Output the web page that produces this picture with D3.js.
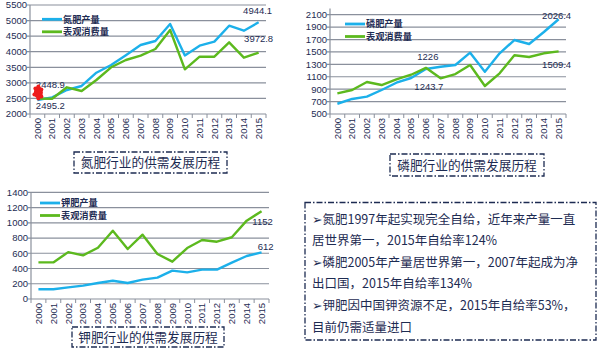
<!DOCTYPE html>
<html lang="zh">
<head>
<meta charset="UTF-8">
<title>化肥行业供需发展历程</title>
<script src="https://d3js.org/d3.v7.min.js"></script>
<style>
  body { margin: 0; background: #fff; }
  .tick-label { font-family: "Liberation Sans", Arial, sans-serif; font-size: 9.5px; fill: #1d2b52; }
  .data-label { font-family: "Liberation Sans", Arial, sans-serif; font-size: 9.5px; fill: #1d2b52; }
  .legend-text { font-family: "Noto Sans CJK SC", sans-serif; font-size: 9.2px; font-weight: bold; fill: #1d2b52; }
  .title-text { font-family: "Noto Sans CJK SC", sans-serif; font-size: 12.7px; fill: #1d2b52; }
  .note-text { font-family: "Noto Sans CJK SC", "DejaVu Sans", sans-serif; font-size: 12.5px; fill: #1d2b52; }
</style>
</head>
<body>
<div class="chart"></div>
<script>
// data
var years = ["2000","2001","2002","2003","2004","2005","2006","2007",
             "2008","2009","2010","2011","2012","2013","2014","2015"];
var consumeName = "表观消费量";

// nitrogen (氮肥)
var nProd    = [2448.9, 2536, 2771, 2900, 3326, 3573, 3890, 4216, 4344, 4890, 3880, 4193, 4322, 4835, 4675, 4944.1];
var nConsume = [2495.2, 2490, 2857, 2739, 3092, 3500, 3734, 3873, 4087, 4697, 3435, 3840, 3840, 4302, 3808, 3972.8];
var nTicks   = [2000, 2500, 3000, 3500, 4000, 4500, 5000, 5500];

// phosphate (磷肥)
var pProd    = [665, 742, 779, 887, 1004, 1080, 1226, 1262, 1289, 1488, 1181, 1478, 1692, 1628, 1821, 2026.4];
var pConsume = [833, 887, 1016, 967, 1059, 1133, 1243.7, 1075, 1144, 1289, 951, 1156, 1446, 1418, 1478, 1509.4];
var pTicks   = [500, 700, 900, 1100, 1300, 1500, 1700, 1900, 2100];

// potash (钾肥)
var kProd    = [127, 128, 153, 175, 210, 240, 210, 254, 280, 372, 350, 385, 385, 477, 564, 612];
var kConsume = [480, 480, 615, 573, 673, 896, 656, 844, 590, 490, 669, 774, 752, 810, 1028, 1152];
var kTicks   = [0, 200, 400, 600, 800, 1000, 1200, 1400];

var notes = [
  "➢氮肥1997年起实现完全自给，近年来产量一直",
  "居世界第一，2015年自给率124%",
  "➢磷肥2005年产量居世界第一，2007年起成为净",
  "出口国，2015年自给率134%",
  "➢钾肥因中国钾资源不足，2015年自给率53%，",
  "目前仍需适量进口"
];

var blue = "#1cb0ea", green = "#5cb91e", navy = "#1d2b52", grid = "#8a909c";

var svg = d3.select(".chart").append("svg")
    .attr("width", 600)
    .attr("height", 354);

function drawChart(cfg) {
  var g = svg.append("g");

  var x = d3.scaleBand()
      .domain(years)
      .range(cfg.xRange);
  var y = d3.scaleLinear()
      .domain(cfg.yDomain)
      .range(cfg.yRange);

  var x0 = cfg.xRange[0], x1 = cfg.xRange[1];
  var yBase = y(cfg.yDomain[0]);

  // gridlines + y labels
  g.selectAll(".gridline")
      .data(cfg.ticks.slice(1))
    .enter().append("line")
      .attr("x1", x0 - 3).attr("x2", x1)
      .attr("y1", d => y(d)).attr("y2", d => y(d))
      .style("stroke", grid).style("stroke-width", 1.2);

  g.selectAll(".ylab")
      .data(cfg.ticks)
    .enter().append("text")
      .attr("class", "tick-label")
      .attr("x", x0 - 3)
      .attr("y", d => y(d))
      .attr("dy", "0.35em")
      .style("text-anchor", "end")
      .text(d => d);

  // y axis line
  g.append("line")
      .attr("x1", x0).attr("x2", x0)
      .attr("y1", yBase).attr("y2", y(cfg.yDomain[1]))
      .style("stroke", grid).style("stroke-width", 1.2);

  // x axis
  g.append("line")
      .attr("x1", x0 - 3).attr("x2", x1)
      .attr("y1", yBase).attr("y2", yBase)
      .style("stroke", grid).style("stroke-width", 1.2);

  g.selectAll(".xtick")
      .data(years.concat(["end"]))
    .enter().append("line")
      .attr("x1", (d, i) => x0 + i * x.step())
      .attr("x2", (d, i) => x0 + i * x.step())
      .attr("y1", yBase).attr("y2", yBase + 4)
      .style("stroke", grid).style("stroke-width", 1);

  g.selectAll(".xlab")
      .data(years)
    .enter().append("text")
      .attr("class", "tick-label")
      .attr("transform", d => "translate(" + (x(d) + x.bandwidth() / 2) + "," + (yBase + 4) + ") rotate(-90)")
      .attr("dy", "0.35em")
      .style("text-anchor", "end")
      .text(d => d);

  // lines
  var line = d3.line()
      .x((d, i) => x(years[i]) + x.bandwidth() / 2)
      .y(d => y(d));

  cfg.series.forEach(function(s) {
    g.append("path")
        .datum(s.values)
        .attr("d", line)
        .style("fill", "none")
        .style("stroke", s.color)
        .style("stroke-width", 2.4)
        .style("stroke-linejoin", "round");
  });

  // legend
  cfg.series.forEach(function(s, i) {
    var ly = cfg.legend[1] + i * 12.5;
    g.append("line")
        .attr("x1", cfg.legend[0]).attr("x2", cfg.legend[0] + 20)
        .attr("y1", ly).attr("y2", ly)
        .style("stroke", s.color).style("stroke-width", 2.8);
    g.append("text")
        .attr("class", "legend-text")
        .attr("x", cfg.legend[0] + 21)
        .attr("y", ly)
        .attr("dy", "0.35em")
        .text(s.name);
  });

  // data labels
  cfg.labels.forEach(function(l) {
    var s = cfg.series[l.s];
    g.append("text")
        .attr("class", "data-label")
        .attr("x", x(years[l.i]) + x.bandwidth() / 2 + l.dx)
        .attr("y", y(s.values[l.i]) + l.dy)
        .attr("dy", "0.35em")
        .style("text-anchor", "middle")
        .text(s.values[l.i]);
  });

  // title box
  var tb = cfg.titleBox;
  g.append("rect")
      .attr("x", tb[0]).attr("y", tb[1])
      .attr("width", tb[2]).attr("height", tb[3])
      .style("fill", "none")
      .style("stroke", navy)
      .style("stroke-width", 1.3)
      .style("stroke-dasharray", "6,2,1.5,2");
  g.append("text")
      .attr("class", "title-text")
      .attr("x", tb[0] + tb[2] / 2)
      .attr("y", tb[1] + tb[3] / 2)
      .attr("dy", "0.36em")
      .style("text-anchor", "middle")
      .text(cfg.title);

  return {x: x, y: y, g: g};
}

var c1 = drawChart({
  xRange: [30, 266], yDomain: [2000, 5500], yRange: [114, 5], ticks: nTicks,
  series: [{name: "氮肥产量", values: nProd, color: blue},
           {name: consumeName, values: nConsume, color: green}],
  legend: [42, 19.3],
  labels: [{s: 0, i: 15, dx: -1, dy: -12}, {s: 1, i: 15, dx: 0, dy: -14},
           {s: 0, i: 0, dx: 13, dy: -15}, {s: 1, i: 0, dx: 13, dy: 7}],
  title: "氮肥行业的供需发展历程",
  titleBox: [74, 152, 153, 21]
});

// red scribble mark near 2000
var rx = c1.x("2000") + c1.x.bandwidth() / 2 + 1, ry = c1.y(2690);
c1.g.append("ellipse")
    .attr("cx", rx).attr("cy", ry).attr("rx", 4.5).attr("ry", 6)
    .style("fill", "#ee1c1c");
[[-3,-4],[3,-3],[-4,2],[3,4],[0,6],[0,-6]].forEach(function(o) {
  c1.g.append("circle")
      .attr("cx", rx + o[0]).attr("cy", ry + o[1]).attr("r", 2)
      .style("fill", "#ee1c1c");
});

drawChart({
  xRange: [330, 566], yDomain: [500, 2200], yRange: [114, 8.5], ticks: pTicks,
  series: [{name: "磷肥产量", values: pProd, color: blue},
           {name: consumeName, values: pConsume, color: green}],
  legend: [345, 24],
  labels: [{s: 0, i: 15, dx: -2, dy: -4}, {s: 1, i: 15, dx: -2, dy: 13},
           {s: 0, i: 6, dx: 2, dy: -12}, {s: 1, i: 6, dx: 3, dy: 19}],
  title: "磷肥行业的供需发展历程",
  titleBox: [390, 154, 154, 22]
});

drawChart({
  xRange: [31, 269], yDomain: [0, 1400], yRange: [299, 192.3], ticks: kTicks,
  series: [{name: "钾肥产量", values: kProd, color: blue},
           {name: consumeName, values: kConsume, color: green}],
  legend: [40, 203],
  labels: [{s: 1, i: 15, dx: 1, dy: 10}, {s: 0, i: 15, dx: 4, dy: -6}],
  title: "钾肥行业的供需发展历程",
  titleBox: [72, 327, 152, 20]
});

// note box
svg.append("rect")
    .attr("x", 305).attr("y", 202.5)
    .attr("width", 291).attr("height", 137.5)
    .style("fill", "none")
    .style("stroke", navy)
    .style("stroke-width", 1.3)
    .style("stroke-dasharray", "6,2,1.5,2");

svg.selectAll(".note")
    .data(notes)
  .enter().append("text")
    .attr("class", "note-text")
    .attr("x", 312)
    .attr("y", (d, i) => 219 + i * 21.6)
    .attr("dy", "0.36em")
    .text(d => d);
</script>
</body>
</html>
